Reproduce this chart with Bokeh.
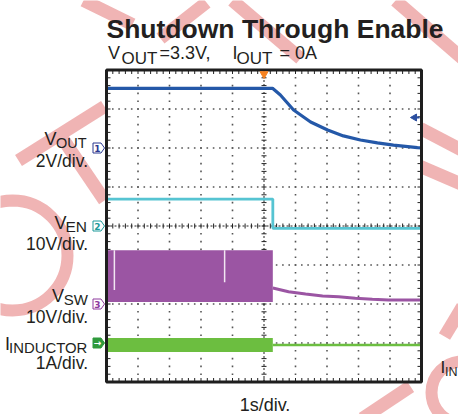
import numpy as np
from bokeh.plotting import figure
from bokeh.models import Range1d
from bokeh.core.properties import value
from bokeh.embed import file_html
from bokeh.resources import INLINE

# ---------------- data (time in s, trigger at 0; 1 s/div) ----------------
t_vout = [-5.0, 0.27, 0.52, 0.94, 1.48, 2.02, 2.52, 3.06, 3.60, 4.11, 4.87, 5.0]
v_vout = [3.06, 3.06, 2.72, 1.95, 1.33, 0.92, 0.62, 0.41, 0.26, 0.15, 0.02, 0.0]

t_ven = [-5.0, 0.28, 0.28, 5.0]
v_ven = [6.9, 6.9, -0.6, -0.6]

t_sw_band = [-5.0, 0.28]
sw_band_top = [13.8, 13.8]
sw_band_bot = [0.5, 0.5]
sw_gap_t = [-4.75, -1.25]
sw_gap_low = [3.6, 5.6]
t_sw_after = [0.28, 0.78, 1.32, 1.86, 2.37, 2.90, 3.44, 3.95, 4.90, 5.0]
v_sw_after = [4.1, 3.15, 2.56, 2.05, 1.88, 1.45, 1.20, 1.03, 1.03, 1.03]

t_il_band = [-5.0, 0.28]
il_band_top = [0.13, 0.13]
il_band_bot = [-0.23, -0.23]
t_il_after = [0.28, 5.0]
i_il_after = [-0.05, -0.05]

# channel: (ground position in divisions, units per division)
ch_vout = (2, 2.0)
ch_ven = (0, 10.0)
ch_vsw = (-2, 10.0)
ch_il = (-3, 1.0)

# ---------------- layout helpers (canvas pixel -> screen divisions) ----------------
W, H = 458, 414
X0, DX = 106.0, 31.5
Y0, DY = 225.5, 39.0


def gx(xp):
    return -5 + (xp - X0) / DX


def gy(yp):
    return (Y0 - yp) / DY


p = figure(width=W, height=H, output_backend="svg", toolbar_location=None,
           x_range=Range1d(gx(0), gx(W)), y_range=Range1d(gy(H), gy(0)),
           x_axis_location=None, y_axis_location=None, min_border=0,
           outline_line_color=None, background_fill_color="white",
           border_fill_color="white")
p.xgrid.visible = False
p.ygrid.visible = False

ys0, ys1 = p.y_range.start, p.y_range.end
p.extra_y_ranges = {
    name: Range1d((ys0 - off) * sc, (ys1 - off) * sc)
    for name, (off, sc) in {"vout": ch_vout, "ven": ch_ven, "vsw": ch_vsw, "il": ch_il}.items()
}

# ---------------- watermark (behind everything) ----------------
WM = "#f0b4b4"
wm_strokes = [
    [(83, 0), (132, 24)],
    [(18, 160), (104, 106)],
    [(58, 132), (104, 200)],
    [(160, 38), (206, 2)],
    [(232, 0), (300, 58)],
    [(395, 0), (462, 58)],
    [(420, 128), (462, 150)],
    [(420, 166), (462, 184)],
    [(462, 306), (444, 336)],
    [(410, 386), (362, 418)],
]
p.multi_line(xs=[[gx(a) for a, b in s] for s in wm_strokes],
             ys=[[gy(b) for a, b in s] for s in wm_strokes],
             line_color=WM, line_width=13, line_cap="butt")
p.scatter(x=[gx(12)], y=[gy(255)], size=110, marker="circle", fill_color=None,
          line_color=WM, line_width=12)
p.scatter(x=[gx(462)], y=[gy(392)], size=62, marker="circle", fill_color=None,
          line_color=WM, line_width=12)

# ---------------- scope screen ----------------
p.quad(left=-5, right=5, bottom=-4, top=4, fill_color="white", line_color=None)

gxs, gys = [], []
for k in range(-4, 5):
    if k == 0:
        continue
    for yy in np.arange(-4, 4.001, 0.2):
        gxs.append(k)
        gys.append(yy)
for j in range(-3, 4):
    if j == 0:
        continue
    for xx in np.arange(-5, 5.001, 0.2):
        gxs.append(xx)
        gys.append(j)
p.scatter(x=gxs, y=gys, marker="square", size=1.6, fill_color="#555555", line_color=None)

# center crosshair
p.segment(x0=[0, -5], y0=[-4, 0], x1=[0, 5], y1=[4, 0], line_color="#222222",
          line_width=1, line_dash="2 2")
tx = np.arange(-5, 5.001, 0.2)
ty = np.arange(-4, 4.001, 0.2)
hx, hy = 2.5 / DX, 2.5 / DY
p.segment(x0=tx, y0=np.full_like(tx, -hy), x1=tx, y1=np.full_like(tx, hy),
          line_color="#222222", line_width=1)
p.segment(x0=np.full_like(ty, -hx), y0=ty, x1=np.full_like(ty, hx), y1=ty,
          line_color="#222222", line_width=1)
# edge ticks
ex, ey = 4 / DX, 4 / DY
p.segment(x0=tx, y0=np.full_like(tx, -4), x1=tx, y1=np.full_like(tx, -4 + ey), line_color="#222222")
p.segment(x0=tx, y0=np.full_like(tx, 4), x1=tx, y1=np.full_like(tx, 4 - ey), line_color="#222222")
p.segment(x0=np.full_like(ty, -5), y0=ty, x1=np.full_like(ty, -5 + ex), y1=ty, line_color="#222222")
p.segment(x0=np.full_like(ty, 5), y0=ty, x1=np.full_like(ty, 5 - ex), y1=ty, line_color="#222222")

# ---------------- traces ----------------
C_VOUT, C_VEN, C_VSW, C_IL = "#2458a8", "#56c4d2", "#9b55a3", "#6cbe40"
p.line(t_vout, v_vout, y_range_name="vout", line_color=C_VOUT, line_width=3.2)
p.line(t_ven, v_ven, y_range_name="ven", line_color=C_VEN, line_width=2.8)
p.varea(x=t_sw_band, y1=sw_band_bot, y2=sw_band_top, y_range_name="vsw", fill_color=C_VSW)
p.segment(x0=sw_gap_t, y0=sw_gap_low, x1=sw_gap_t, y1=[sw_band_top[0]] * len(sw_gap_t),
          y_range_name="vsw", line_color="#f2e6f2", line_width=1.5)
p.line(t_sw_after, v_sw_after, y_range_name="vsw", line_color=C_VSW, line_width=3)
p.varea(x=t_il_band, y1=il_band_bot, y2=il_band_top, y_range_name="il", fill_color=C_IL)
p.line(t_il_after, i_il_after, y_range_name="il", line_color=C_IL, line_width=2.5)

# frame
p.quad(left=-5, right=5, bottom=-4, top=4, fill_color=None, line_color="#1e1e1e", line_width=3)

# channel ground markers
markers = [(ch_vout[0], "#2b3990", "1", False), (ch_ven[0], "#1c9a9a", "2", False),
           (ch_vsw[0], "#8e3a9e", "3", False), (ch_il[0], "#2f9a3c", "\u2192", True)]
mh = 5 / DY
for off, col, lab, filled in markers:
    xs = [gx(92.5), gx(100.5), gx(104), gx(100.5), gx(92.5)]
    ys = [off + mh, off + mh, off, off - mh, off - mh]
    p.patch(xs, ys, fill_color=col if filled else "white", line_color=col, line_width=1)
    p.text(x=[gx(97)], y=[off], text=[lab], text_color="white" if filled else col,
           text_font=value("DejaVu Sans"), text_font_size="9px", text_font_style="bold",
           text_align="center", text_baseline="middle")

# trigger markers
p.scatter(x=[0], y=[gy(73.5)], marker="inverted_triangle", size=8, fill_color="#f58220",
          line_color="#f58220")
p.scatter(x=[gx(414)], y=[gy(117)], marker="triangle", angle=np.pi / 2, size=7,
          fill_color="#2b4fa0", line_color="#2b4fa0")
p.segment(x0=[gx(414)], y0=[gy(117)], x1=[gx(419)], y1=[gy(117)], line_color="#2b4fa0", line_width=2)

# ---------------- texts ----------------
TXT = "#231f20"
FONT = value("Liberation Sans")


def txt(s, xp, yp, size, align="left", bold=False):
    p.text(x=[gx(xp)], y=[gy(yp)], text=[s], text_color=TXT, text_font=FONT,
           text_font_size=f"{size}px", text_font_style="bold" if bold else "normal",
           text_align=align, text_baseline="alphabetic")


txt("Shutdown Through Enable", 106, 28.5, 26.5, bold=True)
txt("V", 107.5, 52, 18)
txt("OUT", 121, 57.5, 17)
txt("=3.3V,", 159, 52, 18)
txt("I", 232, 52, 18)
txt("OUT", 236, 57.5, 17)
txt("= 0A", 279, 52, 18)

txt("V", 44, 138, 18)
txt("OUT", 55.5, 142.5, 14.5)
txt("2V/div.", 87.5, 160.5, 17.5, align="right")
txt("V", 54, 222.3, 18)
txt("EN", 65, 225.5, 15.5)
txt("10V/div.", 87.5, 243.5, 17.5, align="right")
txt("V", 51.5, 295, 18)
txt("SW", 63.3, 298.5, 15)
txt("10V/div.", 87.5, 316.5, 17.5, align="right")
txt("I", 4.5, 343, 18)
txt("INDUCTOR", 8.5, 347, 14.9)
txt("1A/div.", 87.5, 362, 17.5, align="right")

txt("1s/div.", 264.5, 404, 18, align="center")
txt("I", 440, 367, 17)
txt("IN", 444.5, 371.5, 12.5)

open("out.html", "w").write(file_html(p, INLINE))
